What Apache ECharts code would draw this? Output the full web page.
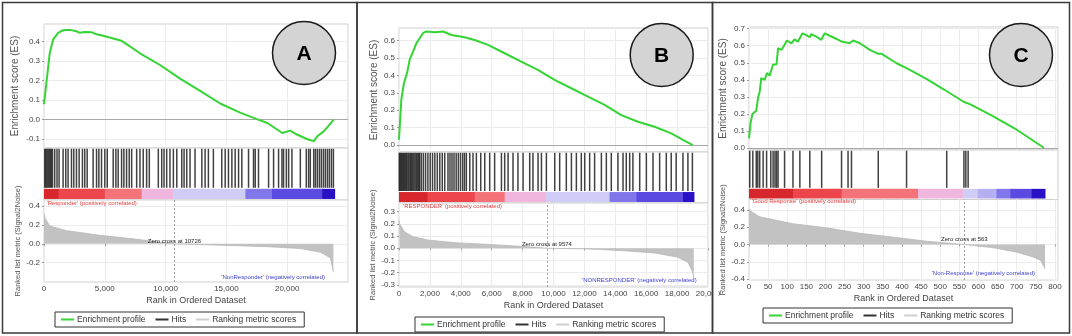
<!DOCTYPE html>
<html><head><meta charset="utf-8">
<script src="https://cdn.jsdelivr.net/npm/echarts@6/dist/echarts.min.js"></script>
<style>html,body{margin:0;padding:0;background:#fff}#c{width:1072px;height:336px}</style>
</head><body><div id="c"></div>
<script>
// ---------------- DATA ----------------
const panelLetters = ['A', 'B', 'C'];
const posLabels = ["'Responder' (positively correlated)", "'RESPONDER' (positively correlated)", "'Good Response' (positively correlated)"];
const negLabels = ["'NonResponder' (negatively correlated)", "'NONRESPONDER' (negatively correlated)", "'Non-Response' (negatively correlated)"];
const zeroCross = [10726, 9574, 563];
const seriesNames = ['Enrichment profile', 'Hits', 'Ranking metric scores'];
const esAxisName = 'Enrichment score (ES)';
const metricAxisName = 'Ranked list metric (Signal2Noise)';
const rankAxisName = 'Rank in Ordered Dataset';

const esTicksA = [-0.1, 0, 0.1, 0.2, 0.3, 0.4];
const esTicksB = [0, 0.1, 0.2, 0.3, 0.4, 0.5, 0.6];
const esTicksC = [0, 0.1, 0.2, 0.3, 0.4, 0.5, 0.6, 0.7];
const metricTicksA = [-0.2, 0, 0.2, 0.4];
const metricTicksB = [-0.3, -0.2, -0.1, 0, 0.1, 0.2, 0.3];
const metricTicksC = [-0.4, -0.2, 0, 0.2, 0.4];
const rankTickStep = [5000, 2000, 50];
const rankMax = [25000, 20000, 808];
const showRankMaxLabel = [false, true, false];

// enrichment profiles [rank, ES]
const esA = [[0,0.08],[470,0.34],[745,0.41],[1160,0.445],[1570,0.458],[2120,0.46],[2670,0.453],[2940,0.445],[3350,0.449],[3900,0.448],[4320,0.437],[4870,0.43],[5690,0.416],[6380,0.404],[6790,0.387],[7890,0.34],[9540,0.28],[11190,0.21],[12840,0.148],[14490,0.083],[16130,0.036],[17500,0.003],[18370,-0.017],[19600,-0.068],[20250,-0.056],[20800,-0.076],[21660,-0.10],[22200,-0.11],[22480,-0.085],[23000,-0.06],[23410,-0.03],[23820,0.0]];
const esB = [[0,0.03],[150,0.26],[320,0.355],[540,0.42],[690,0.49],[910,0.536],[1120,0.584],[1340,0.613],[1550,0.642],[1770,0.652],[2310,0.648],[2850,0.652],[3390,0.632],[4250,0.619],[4890,0.603],[5760,0.575],[6840,0.527],[7910,0.479],[8990,0.431],[10070,0.374],[11150,0.326],[12230,0.278],[13310,0.23],[14390,0.172],[15470,0.134],[16540,0.105],[17620,0.067],[18380,0.029],[19020,0.0]];
const esC = [[0,0.058],[4,0.146],[9,0.2],[13,0.21],[19,0.22],[24,0.30],[28,0.33],[32,0.41],[37,0.42],[41,0.40],[47,0.44],[54,0.425],[63,0.49],[72,0.49],[76,0.585],[85,0.575],[93,0.605],[99,0.63],[111,0.613],[119,0.637],[128,0.624],[140,0.672],[150,0.662],[159,0.649],[163,0.668],[176,0.653],[189,0.634],[198,0.672],[211,0.658],[229,0.639],[242,0.624],[246,0.634],[255,0.618],[263,0.614],[272,0.63],[290,0.614],[316,0.575],[338,0.552],[347,0.552],[386,0.497],[412,0.468],[417,0.468],[465,0.404],[509,0.345],[513,0.345],[561,0.272],[579,0.257],[640,0.185],[701,0.107],[771,0.003]];

// hit ranks
const hitsA = [60,150,240,330,420,510,600,700,880,1070,1240,1570,1790,1980,2260,2450,2670,2890,3160,3350,3550,4040,4320,4510,4730,5000,5200,5690,5910,6100,6380,6570,6790,7010,7210,7620,7890,8160,8440,8660,9400,9680,9870,10090,10360,10640,10920,11330,11520,11740,12010,12420,12980,13250,13520,13930,14620,14900,15170,15450,15720,16000,16270,16820,17230,17370,17640,18470,18880,19290,19570,19700,19930,20120,20390,21080,21570,21760,21900,22180,22320,22480,22650,22810,22980,23140,23310,23470,23640,23800];
const hitsB = [20,80,150,220,290,360,430,500,580,650,730,800,880,960,1040,1120,1200,1280,1340,1450,1580,1720,1870,2020,2170,2320,2480,2640,2800,2960,3170,3300,3430,3560,3700,3840,3980,4120,4240,4360,4580,4790,5010,5290,5550,5870,6190,6630,6840,7060,7380,7700,8030,8460,8670,9000,9220,9540,10080,10400,10830,11160,11480,11800,12020,12340,12660,13100,13420,13740,14170,14500,14710,14930,15140,15580,16010,16440,16870,17300,17620,17940,18380,18700,18990];
const hitsC = [2,10,19,23,28,37,46,57,63,68,72,76,93,115,133,159,190,242,259,268,338,412,517,562,567,573];

// ranked list metric [rank, value]
const metricA = [[0,0.32],[100,0.27],[470,0.19],[1850,0.14],[4600,0.09],[7330,0.053],[8440,0.035],[10000,0.012],[10726,0],[13400,-0.01],[18350,-0.03],[21100,-0.05],[22750,-0.09],[23560,-0.15],[23800,-0.30]];
const metricB = [[0,0.23],[40,0.2],[360,0.136],[900,0.095],[1870,0.068],[3600,0.046],[5760,0.032],[7480,0.019],[8890,0.008],[9574,0],[12230,-0.005],[14390,-0.019],[16540,-0.038],[18050,-0.073],[18700,-0.115],[19020,-0.197],[19080,-0.25]];
const metricC = [[0,0.41],[10,0.37],[28,0.32],[50,0.30],[115,0.24],[202,0.193],[290,0.13],[377,0.085],[464,0.038],[563,0],[640,-0.038],[701,-0.089],[745,-0.147],[763,-0.185],[774,-0.28]];

// colour bar segments [startRank, endRank, level]
const barA = [[0,1200,4],[1200,5000,3],[5000,8030,2],[8030,10630,1],[10630,16560,-1],[16560,18750,-3],[18750,22870,-4],[22870,23900,-5]];
const barB = [[0,1850,4],[1850,4900,3],[4900,6840,2],[6840,9530,1],[9530,13630,-1],[13630,15360,-3],[15360,18380,-4],[18380,19090,-5]];
const barC = [[0,115,4],[115,242,3],[242,442,2],[442,560,1],[560,598,-1],[598,647,-2],[647,683,-3],[683,739,-4],[739,774,-5]];

// ---------------- STYLE / LAYOUT ----------------
const FONT = '"Liberation Sans", Arial, sans-serif';
const levelColor = {4:'#d8262d', 3:'#ec464c', 2:'#f47378', 1:'#f1b6de', '-1':'#cfccf6', '-2':'#b5aff2', '-3':'#8176ea', '-4':'#5a4ae2', '-5':'#2a10c4'};
const HIT_LO = 0.235, HIT_HI = 0.985, BAR_LO = 0.02, BAR_HI = 0.215;

const L = [
  {left:44, width:304, esTop:24, esH:124, hitTop:148, hitH:52, metTop:200, metH:82,
   esMin:-0.145, esMax:0.49, metMin:-0.405, metMax:0.465, legendLeft:55, legendTop:312,
   box:[2.5, 2.5, 354.5, 330.5], circle:[304, 53], esGap:24, metGap:21,
   pos:[46.5, 203], neg:[325, 277], zeroDist:-1},
  {left:399, width:309, esTop:28, esH:124, hitTop:152, hitH:51, metTop:203, metH:84,
   esMin:-0.04, esMax:0.672, metMin:-0.317, metMax:0.371, legendLeft:415, legendTop:317,
   box:[357, 2.5, 355.5, 330.5], circle:[661.7, 55], esGap:20, metGap:17,
   pos:[403, 206.7], neg:[696.7, 280], zeroDist:1},
  {left:749, width:309, esTop:27, esH:123, hitTop:150, hitH:49.5, metTop:199.5, metH:80.5,
   esMin:-0.01, esMax:0.709, metMin:-0.41, metMax:0.52, legendLeft:763, legendTop:308,
   box:[712.5, 2.5, 357, 330.5], circle:[1021, 55], esGap:21, metGap:21,
   pos:[751.7, 201.7], neg:[1035, 273.3], zeroDist:2}
];

const P = [
  {es:esA, hits:hitsA, metric:metricA, bar:barA, esT:esTicksA, metT:metricTicksA},
  {es:esB, hits:hitsB, metric:metricB, bar:barB, esT:esTicksB, metT:metricTicksB},
  {es:esC, hits:hitsC, metric:metricC, bar:barC, esT:esTicksC, metT:metricTicksC}
];

const grids = [], xAxes = [], yAxes = [], series = [], legends = [], graphics = [];
const fmt1 = v => (Math.abs(v) < 1e-9 ? 0 : v).toFixed(1);

P.forEach((p, i) => {
  const l = L[i];
  const gi = i * 3;
  const gridBase = {left:l.left, width:l.width, show:true, borderColor:'#cfcfcf', borderWidth:1, backgroundColor:'#fff'};
  grids.push(Object.assign({}, gridBase, {top:l.esTop, height:l.esH}));
  grids.push(Object.assign({}, gridBase, {top:l.hitTop, height:l.hitH}));
  grids.push(Object.assign({}, gridBase, {top:l.metTop, height:l.metH}));

  const xBase = {type:'value', min:0, max:rankMax[i], interval:rankTickStep[i],
    axisLine:{show:false}, axisTick:{show:false}};
  const xSplit = {show:true, lineStyle:{color:'#ececec', width:1}};
  xAxes.push(Object.assign({}, xBase, {gridIndex:gi, axisLabel:{show:false}, splitLine:xSplit}));
  xAxes.push(Object.assign({}, xBase, {gridIndex:gi+1, axisLabel:{show:false}, splitLine:{show:false}}));
  xAxes.push(Object.assign({}, xBase, {gridIndex:gi+2,
    axisTick:{show:true, length:2, lineStyle:{color:'#999'}},
    axisLabel:{fontSize:8, color:'#444', margin:3, fontFamily:FONT, showMaxLabel:showRankMaxLabel[i],
      formatter:v => v.toLocaleString('en-US')},
    splitLine:xSplit,
    name:rankAxisName, nameLocation:'middle', nameGap:14,
    nameTextStyle:{fontSize:9, color:'#444', fontFamily:FONT}}));

  yAxes.push({gridIndex:gi, type:'value', min:l.esMin, max:l.esMax,
    axisLine:{show:false},
    axisTick:{show:true, length:2, customValues:p.esT, lineStyle:{color:'#999'}},
    axisLabel:{customValues:p.esT, formatter:fmt1, fontSize:8, color:'#444', margin:4, fontFamily:FONT},
    splitLine:{show:true, lineStyle:{color:'#ececec'}},
    name:esAxisName, nameLocation:'middle', nameRotate:90, nameGap:l.esGap,
    nameTextStyle:{fontSize:10, color:'#555', fontFamily:FONT}});
  yAxes.push({gridIndex:gi+1, type:'value', min:0, max:1, show:false});
  yAxes.push({gridIndex:gi+2, type:'value', min:l.metMin, max:l.metMax,
    axisLine:{show:false},
    axisTick:{show:true, length:2, customValues:p.metT, lineStyle:{color:'#999'}},
    axisLabel:{customValues:p.metT, formatter:fmt1, fontSize:8, color:'#444', margin:4, fontFamily:FONT},
    splitLine:{show:true, lineStyle:{color:'#ececec'}},
    name:metricAxisName, nameLocation:'middle', nameRotate:90, nameGap:l.metGap,
    nameTextStyle:{fontSize:7.5, color:'#555', fontFamily:FONT}});

  // enrichment profile
  series.push({name:seriesNames[0], type:'line', xAxisIndex:gi, yAxisIndex:gi, data:p.es,
    showSymbol:false, symbol:'none', smooth:false, z:5,
    lineStyle:{color:'#35d435', width:2}, itemStyle:{color:'#35d435'},
    markLine:{silent:true, symbol:'none', label:{show:false}, animation:false,
      lineStyle:{color:'#a8a8a8', width:1, type:'solid'}, data:[{yAxis:0}]}});
  // hits
  series.push({name:seriesNames[1], type:'custom', xAxisIndex:gi+1, yAxisIndex:gi+1,
    data:p.hits.map(r => [r, 0]), itemStyle:{color:'#222'},
    renderItem:(params, api) => {
      const x = api.coord([api.value(0), HIT_LO])[0];
      const y0 = api.coord([0, HIT_LO])[1], y1 = api.coord([0, HIT_HI])[1];
      return {type:'line', shape:{x1:x, y1:y0, x2:x, y2:y1},
        style:{stroke:'#111', lineWidth:1.5, opacity:0.8}};
    }});
  // colour bar
  series.push({name:'bar' + i, type:'custom', xAxisIndex:gi+1, yAxisIndex:gi+1,
    data:p.bar, encode:{x:[0,1]},
    renderItem:(params, api) => {
      const a = api.coord([api.value(0), BAR_HI]);
      const b = api.coord([api.value(1), BAR_LO]);
      return {type:'rect', shape:{x:a[0], y:a[1], width:b[0]-a[0]+0.5, height:b[1]-a[1]},
        style:{fill:levelColor[api.value(2)]}};
    }});
  // ranking metric
  series.push({name:seriesNames[2], type:'line', xAxisIndex:gi+2, yAxisIndex:gi+2, data:p.metric,
    showSymbol:false, symbol:'none', z:3,
    lineStyle:{color:'#b8b8b8', width:0.8}, itemStyle:{color:'#c8c8c8'},
    areaStyle:{color:'#c2c2c2', opacity:1},
    markLine:{silent:true, symbol:'none', label:{show:false}, animation:false,
      lineStyle:{color:'#a0a0a0', width:1, type:[2,2]}, data:[{xAxis:zeroCross[i]}]},
    markPoint:{silent:true, symbol:'circle', symbolSize:0, animation:false,
      data:[{coord:[zeroCross[i], 0]}],
      label:{show:true, position:'top', distance:l.zeroDist, formatter:'Zero cross at ' + zeroCross[i],
        fontSize:6, color:'#222', fontFamily:FONT}}});

  legends.push({left:l.legendLeft, top:l.legendTop, orient:'horizontal',
    borderColor:'#333', borderWidth:1, padding:[3,8,3,6], itemGap:10, itemWidth:13, itemHeight:2,
    icon:'rect', selectedMode:false,
    textStyle:{fontSize:8.5, color:'#333', fontFamily:FONT, padding:[0,0,0,-2]},
    data:[{name:seriesNames[0], itemStyle:{color:'#35d435'}},
          {name:seriesNames[1], itemStyle:{color:'#333'}},
          {name:seriesNames[2], itemStyle:{color:'#cfcfcf'}}]});

  // annotations
  graphics.push({type:'text', x:l.pos[0], y:l.pos[1], z:50,
    style:{text:posLabels[i], fill:'#e04040', fontSize:6, fontFamily:FONT, textVerticalAlign:'middle', verticalAlign:'middle'}});
  graphics.push({type:'text', x:l.neg[0], y:l.neg[1], z:50,
    style:{text:negLabels[i], fill:'#4040d0', fontSize:6, fontFamily:FONT, align:'right', textAlign:'right', verticalAlign:'middle', textVerticalAlign:'middle'}});
  graphics.push({type:'circle', shape:{cx:l.circle[0], cy:l.circle[1], r:31.5}, z:50,
    style:{fill:'#d4d4d4', stroke:'#1a1a1a', lineWidth:1.5}});
  graphics.push({type:'text', x:l.circle[0], y:l.circle[1] + 1, z:51,
    style:{text:panelLetters[i], fill:'#000', fontSize:21, fontWeight:'bold', fontFamily:'Arial, "Liberation Sans", sans-serif',
      align:'center', textAlign:'center', verticalAlign:'middle', textVerticalAlign:'middle'}});
});

// clip the overflowing last tick label of panel B at the panel border
graphics.push({type:'rect', shape:{x:713, y:286, width:5.5, height:14}, z:99, style:{fill:'#fff'}});
L.forEach(l => {
  graphics.push({type:'rect', shape:{x:l.box[0], y:l.box[1], width:l.box[2], height:l.box[3]}, z:100,
    style:{fill:'none', stroke:'#3a3a3a', lineWidth:1.5}});
});

const chart = echarts.init(document.getElementById('c'), null, {renderer:'canvas'});
chart.setOption({
  animation:false,
  backgroundColor:'#fff',
  textStyle:{fontFamily:FONT},
  grid:grids, xAxis:xAxes, yAxis:yAxes, series:series, legend:legends, graphic:graphics
});
</script></body></html>
